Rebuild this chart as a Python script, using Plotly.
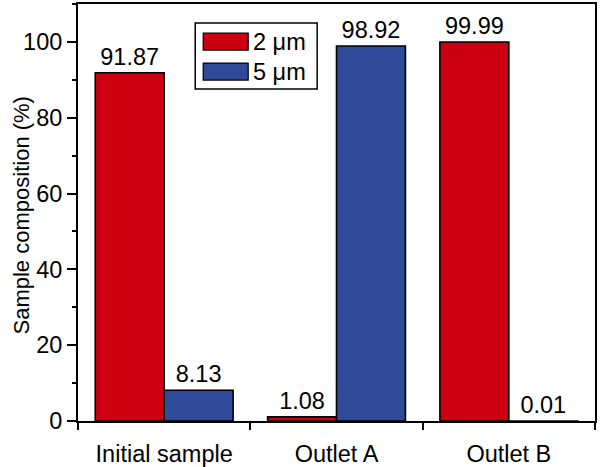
import plotly.graph_objects as go

categories = ["Initial sample", "Outlet A", "Outlet B"]
series_names = ["2 \u03bcm", "5 \u03bcm"]
values_2um = [91.87, 1.08, 99.99]
values_5um = [8.13, 98.92, 0.01]
colors = ["#CC0010", "#2E4A98"]
y_title = "Sample composition (%)"

FONT = "Liberation Sans, Arial, sans-serif"
FS = 23.5

fig = go.Figure()
for name, vals, col in zip(series_names, [values_2um, values_5um], colors):
    fig.add_trace(go.Bar(
        x=categories, y=vals, name=name,
        marker=dict(color=col, line=dict(color="black", width=1.6)),
        text=[f"{v:.2f}" for v in vals], textposition="outside",
        textfont=dict(family=FONT, size=FS, color="black"),
        cliponaxis=False, showlegend=False,
    ))

# manual legend (paper coordinates)
L, R, T, B = 77.7, 595.0, 4.0, 420.7
def px(x): return (x - L) / (R - L)
def py(y): return 1 - (y - T) / (B - T)

shapes = [dict(type="rect", xref="paper", yref="paper",
               x0=px(195), x1=px(317), y0=py(89), y1=py(23),
               line=dict(color="black", width=1.5), fillcolor="white")]
annotations = []
rows = [(33, 50), (63, 80)]
for (y0, y1), name, col in zip(rows, series_names, colors):
    shapes.append(dict(type="rect", xref="paper", yref="paper",
                       x0=px(203), x1=px(248), y0=py(y1), y1=py(y0),
                       line=dict(color="black", width=1.2), fillcolor=col))
    annotations.append(dict(xref="paper", yref="paper", x=px(251),
                            y=py((y0 + y1) / 2), text=name, showarrow=False,
                            xanchor="left", yanchor="middle",
                            font=dict(family=FONT, size=FS, color="black")))

# y-axis title as rotated annotation
annotations.append(dict(xref="paper", yref="paper", x=px(21), y=py(215),
                        text=y_title, showarrow=False, textangle=-90,
                        xanchor="center", yanchor="middle",
                        font=dict(family=FONT, size=22, color="black")))

fig.update_layout(
    width=600, height=467,
    margin=dict(l=78, r=5, t=4, b=46, autoexpand=False),
    barmode="group", bargap=0.2, bargroupgap=0,
    plot_bgcolor="white", paper_bgcolor="white",
    font=dict(family=FONT, size=FS, color="black"),
    shapes=shapes, annotations=annotations,
    xaxis=dict(
        tickson="boundaries", ticks="outside", ticklen=7, tickwidth=1.5,
        tickcolor="black", showline=True, linecolor="black", linewidth=2,
        mirror=True, showgrid=False, range=[-0.5, 2.5], automargin=False,
        ticklabelstandoff=11,
        tickfont=dict(family=FONT, size=FS, color="black"),
    ),
    yaxis=dict(
        range=[0, 110], dtick=20, tick0=0, ticks="outside", ticklen=9,
        tickwidth=1.5, tickcolor="black", showline=True, linecolor="black",
        linewidth=2, mirror=True, showgrid=False, zeroline=False,
        automargin=False,
        minor=dict(dtick=10, ticks="outside", ticklen=4, tickwidth=1.5,
                   tickcolor="black", showgrid=False),
        tickfont=dict(family=FONT, size=FS, color="black"),
    ),
)

fig.write_html("out.html", config={"displayModeBar": False},
               post_script="document.body.style.margin='0';")
